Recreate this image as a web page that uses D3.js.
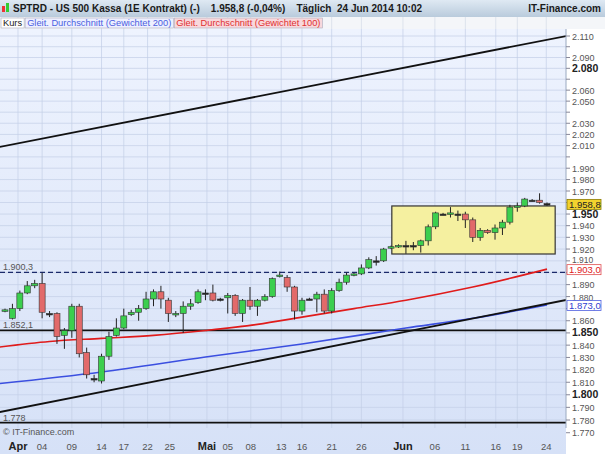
<!DOCTYPE html><html><head><meta charset="utf-8">
<script src="https://cdn.jsdelivr.net/npm/d3@7"></script>
<style>body{margin:0;background:#fff}svg{font-family:Arial,"Liberation Sans",sans-serif}text{white-space:pre}</style></head><body>
<script>
// OHLC candles, one per trading day
const opens  = [1868,1862,1870,1883,1889,1891,1866,1866,1848,1852,1872,1834,1813,1811,1831,1848,1854,1865,1867,1870,1878,1884,1877,1865,1866,1872,1875,1883,1883,1878,1879,1881,1866,1877,1872,1877,1880,1897,1896,1888,1868,1878,1878,1882,1868,1885,1892,1898,1899,1904,1910,1910,1921,1922,1923,1923,1923,1927,1939,1950,1950,1950,1950,1945,1930,1936,1934,1938,1943,1956,1957,1962,1962,1959];
const closes = [1869,1870,1883,1889,1891,1867,1866,1847,1852,1872,1833,1816,1813,1831,1847,1854,1864,1867,1870,1878,1884,1878,1866,1866,1872,1874,1884,1883,1877,1878,1881,1866,1877,1872,1877,1880,1895,1898,1888,1868,1877,1878,1882,1868,1885,1892,1898,1899,1904,1911,1910,1920,1922,1923,1923,1923,1927,1939,1951,1950,1951,1950,1945,1930,1936,1934,1938,1943,1956,1957,1963,1962,1960,1958.8];
const highs  = [1870,1874,1885,1893,1894,1900,1868,1867,1854,1874,1874,1838,1816,1833,1851,1862,1870,1869,1873,1884,1886,1889,1879,1868,1876,1878,1886,1886,1890,1879,1883,1882,1878,1888,1878,1882,1896,1901,1898,1889,1879,1879,1884,1886,1887,1895,1900,1900,1907,1913,1914,1921,1923,1924,1927,1926,1928,1941,1952,1951,1956,1953,1952,1947,1938,1937,1941,1945,1958,1960,1964,1963,1968,1960];
const lows   = [1867,1861,1868,1882,1887,1862,1863,1841,1837,1846,1830,1813,1810,1809,1828,1847,1853,1864,1860,1869,1872,1870,1859,1863,1850,1869,1874,1877,1876,1876,1866,1864,1859,1869,1864,1876,1879,1896,1884,1861,1865,1877,1867,1866,1866,1884,1890,1897,1898,1903,1906,1909,1920,1921,1916,1919,1917,1923,1937,1949,1947,1944,1938,1926,1927,1933,1928,1932,1941,1952,1956,1961,1959,1957];
// moving averages (index, value)
const ma100Idx = [-0.7,6,13,20,27,34,40,47,54,63,73];
const ma100Val = [1838.5,1843,1845.5,1848,1852,1857,1863,1870,1877,1888,1903];
const ma200Idx = [-0.7,13,27,40,54,63,73];
const ma200Val = [1809,1818.3,1830.4,1841,1854,1862,1873];
// trendlines & levels
const upperTrend = [[-0.7,2008.8],[75.6,2110]];
const lowerTrend = [[-0.7,1786.3],[75.6,1877.2]];
const levels = [1900.3,1852.1,1778];
const boxRange = {i0:52.1,i1:74.1,lo:1915.8,hi:1957};
// x ticks
const tickIdx = [1.75,5,9,13,16,19.2,22.2,27.2,30,33.1,37.2,40,44,48,53.6,57.9,62,66.1,69,72.9];
const tickLbl = ["Apr","04","09","14","17","22","25","Mai","05","08","13","16","21","26","Jun","06","11","16","19","24"];
const yTicks = d3.range(1770,2111,10);
const yLabels = [2110,2090,2080,2060,2050,2030,2020,2010,1990,1980,1970,1950,1940,1930,1920,1910,1890,1880,1860,1850,1840,1830,1820,1810,1800,1790,1780,1770];
const boldY = [2080,1950,1850,1800];

const W=605,H=454, PL=0, PR=566, PT=29, PB=428;
const svg=d3.select("body").append("svg").attr("width",W).attr("height",H);
const defs=svg.append("defs");
const g1=defs.append("linearGradient").attr("id","bg").attr("x1",0).attr("y1",0).attr("x2",0).attr("y2",1);
g1.append("stop").attr("offset",0).attr("stop-color","#eef3fe");
g1.append("stop").attr("offset",1).attr("stop-color","#d6e1f7");
const g2=defs.append("linearGradient").attr("id","hd").attr("x1",0).attr("y1",0).attr("x2",0).attr("y2",1);
g2.append("stop").attr("offset",0).attr("stop-color","#dfe9f3");
g2.append("stop").attr("offset",1).attr("stop-color","#b9cbdc");
defs.append("clipPath").attr("id","clip").append("rect").attr("x",PL).attr("y",PT).attr("width",PR-PL).attr("height",PB-PT);

const x=d3.scaleLinear().domain([0,73]).range([5,547]);
const y=d3.scaleLog().domain([1780,2110]).range([420,36]);
const fmt=v=>d3.format(",.0f")(v).replace(",",".");
const fmt1=v=>{const s=d3.format(",.1f")(v);return s.replace(",","#").replace(".",",").replace("#",".");};

svg.append("rect").attr("width",W).attr("height",H).attr("fill","#fff");
svg.append("rect").attr("x",0).attr("y",PT).attr("width",PR).attr("height",H-PT).attr("fill","url(#bg)");
svg.append("rect").attr("x",0).attr("y",0).attr("width",W).attr("height",17).attr("fill","url(#hd)");
svg.append("rect").attr("x",0).attr("y",17).attr("width",W).attr("height",12).attr("fill","#f4f6f9");

const grid=svg.append("g").attr("clip-path","url(#clip)");
grid.selectAll(".hg").data(yTicks).join("line").attr("x1",PL).attr("x2",PR).attr("y1",d=>y(d)).attr("y2",d=>y(d)).attr("stroke","#c3cfe6").attr("stroke-width",0.7);
grid.selectAll(".vg").data(tickIdx).join("line").attr("x1",d=>x(d)).attr("x2",d=>x(d)).attr("y1",PT).attr("y2",PB).attr("stroke","#c3cfe6").attr("stroke-width",0.7);
svg.selectAll(".vg2").data(tickIdx).join("line").attr("x1",d=>x(d)).attr("x2",d=>x(d)).attr("y1",17).attr("y2",PT).attr("stroke","#dde3ec");

const pl=svg.append("g").attr("clip-path","url(#clip)");
pl.append("rect").attr("x",x(boxRange.i0)).attr("width",x(boxRange.i1)-x(boxRange.i0)).attr("y",y(boxRange.hi)).attr("height",y(boxRange.lo)-y(boxRange.hi)).attr("fill","#f5f0a0").attr("stroke","#333").attr("stroke-width",1.2);
levels.forEach((v,i)=>{
  pl.append("line").attr("x1",PL).attr("x2",PR).attr("y1",y(v)).attr("y2",y(v)).attr("stroke",i==0?"#1b2a6b":"#111").attr("stroke-width",i==0?1.3:1.8).attr("stroke-dasharray",i==0?"5,3":null);
  svg.append("text").attr("x",3).attr("y",y(v)-2).attr("font-size",9).attr("fill","#555").text(i==2?fmt(v):fmt1(v));
});
const ln=d3.line().x(d=>x(d[0])).y(d=>y(d[1])).curve(d3.curveMonotoneX);
pl.append("path").attr("d",ln(ma200Idx.map((d,i)=>[d,ma200Val[i]]))).attr("fill","none").attr("stroke","#3b4fe0").attr("stroke-width",1.6);
pl.append("path").attr("d",ln(ma100Idx.map((d,i)=>[d,ma100Val[i]]))).attr("fill","none").attr("stroke","#e01b1b").attr("stroke-width",1.6);
const ls=d3.line().x(d=>x(d[0])).y(d=>y(d[1]));
[upperTrend,lowerTrend].forEach(t=>pl.append("path").attr("d",ls(t)).attr("fill","none").attr("stroke","#111").attr("stroke-width",1.8));

const data=opens.map((o,i)=>({i,o,c:closes[i],h:highs[i],l:lows[i]}));
const cg=pl.selectAll(".c").data(data).join("g");
cg.append("line").attr("x1",d=>x(d.i)).attr("x2",d=>x(d.i)).attr("y1",d=>y(d.h)).attr("y2",d=>y(d.l)).attr("stroke","#222").attr("stroke-width",1);
cg.append("rect").attr("x",d=>x(d.i)-3).attr("width",6)
  .attr("y",d=>y(Math.max(d.o,d.c))).attr("height",d=>Math.max(1.5,Math.abs(y(d.o)-y(d.c))))
  .attr("fill",d=>d.c>d.o+0.5?"#3ccf4e":(d.c<d.o-0.5?"#e26a6a":"#222")).attr("stroke","#333").attr("stroke-width",0.6);

svg.append("line").attr("x1",PR).attr("x2",PR).attr("y1",PT).attr("y2",PB).attr("stroke","#9aa9c0");
svg.selectAll(".yt").data(yTicks).join("line").attr("x1",PR).attr("x2",PR+4).attr("y1",d=>y(d)).attr("y2",d=>y(d)).attr("stroke","#889");
svg.selectAll(".yl").data(yLabels).join("text").attr("x",PR+6).attr("y",d=>y(d)+(d==1910?2.5:d==1880?4:3.5))
  .attr("font-size",d=>boldY.includes(d)?10.5:(d==1910||d==1880)?8.5:9).attr("font-weight",d=>boldY.includes(d)?"bold":"normal")
  .attr("fill",d=>boldY.includes(d)?"#222":"#555").text(d=>fmt(d));
const badges=[[closes[closes.length-1],"#f2d22e","#8a7a00","#222"],[ma100Val[ma100Val.length-1],"#fff","#e05050","#e02020"],[ma200Val[ma200Val.length-1],"#fff","#5060e0","#3040d0"]];
badges.forEach(b=>{
  svg.append("rect").attr("x",PR+1).attr("y",y(b[0])-4.5).attr("width",34).attr("height",10).attr("fill",b[1]).attr("stroke",b[2]).attr("stroke-width",0.8);
  svg.append("text").attr("x",PR+3).attr("y",y(b[0])+4).attr("font-size",9.5).attr("fill",b[3]).text(fmt1(b[0]));
});

svg.selectAll(".xl").data(tickIdx).join("text").attr("x",d=>x(d)).attr("y",450).attr("text-anchor","middle")
  .attr("font-size",(d,i)=>/[A-Z]/.test(tickLbl[i])?11:9.5).attr("font-weight",(d,i)=>/[A-Z]/.test(tickLbl[i])?"bold":"normal")
  .attr("fill",(d,i)=>/[A-Z]/.test(tickLbl[i])?"#222":"#555").text((d,i)=>tickLbl[i]);
svg.append("text").attr("x",3).attr("y",435).attr("font-size",9).attr("fill","#555").text("© IT-Finance.com");

svg.append("rect").attr("x",2).attr("y",6).attr("width",3).attr("height",6).attr("fill","#e33");
svg.append("rect").attr("x",6).attr("y",3).attr("width",3).attr("height",9).attr("fill","#3c3");
svg.append("text").attr("x",13).attr("y",12).attr("font-size",10).attr("font-weight","bold").attr("fill","#1a1a1a")
  .text("SPTRD - US 500 Kassa (1E Kontrakt) (-)    1.958,8 (-0,04%)    Täglich  24 Jun 2014 10:02");
svg.append("text").attr("x",601).attr("y",12).attr("font-size",10).attr("font-weight","bold").attr("text-anchor","end").attr("fill","#1a1a1a").text("IT-Finance.com");
let lx=1;
[["Kurs","#222","#fff"],["Gleit. Durchschnitt (Gewichtet 200)","#4a5ee0","#eef0ff"],["Gleit. Durchschnitt (Gewichtet 100)","#e03030","#f8d8dc"]].forEach(l=>{
  const t=svg.append("text").attr("x",lx+2).attr("y",26).attr("font-size",9.3).attr("fill",l[1]).text(l[0]);
  const w=t.node().getComputedTextLength()+4;
  svg.insert("rect","text").attr("x",lx).attr("y",18).attr("width",w).attr("height",10).attr("fill",l[2]).attr("stroke","#aab").attr("stroke-width",0.6);
  lx+=w+1;
});
</script></body></html>
